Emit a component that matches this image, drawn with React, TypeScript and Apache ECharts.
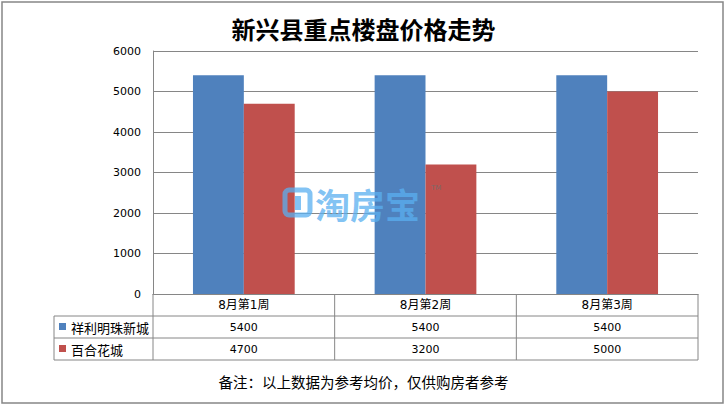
import React, { useEffect, useRef } from "react";
import * as echarts from "echarts";

const titleText = "新兴县重点楼盘价格走势";
const noteText = "备注：以上数据为参考均价，仅供购房者参考";
const categories = ["8月第1周", "8月第2周", "8月第3周"];
const seriesNames = ["祥利明珠新城", "百合花城"];
const seriesA = [5400, 5400, 5400];
const seriesB = [4700, 3200, 5000];
const colors = ["#4F81BD", "#C0504D"];

const W = 727;
const H = 407;
const gridL = 153;
const gridR = 698;
const gridT = 51;
const gridB = 294;
const rowH = 22;
const tableL = 54;
const lineColor = "#868686";

export default function App() {
  const ref = useRef<HTMLDivElement>(null);
  useEffect(() => {
    if (!ref.current) return;
    const chart = echarts.init(ref.current, undefined, { renderer: "svg" });
    const seriesData = [seriesA, seriesB];
    const colW = (gridR - gridL) / categories.length;
    const graphics: any[] = [];
    graphics.push({
      type: "rect",
      shape: { x: 2, y: 2, width: 721, height: 401 },
      style: { fill: "none", stroke: lineColor, lineWidth: 1.5 },
    });
    for (let r = 1; r <= 3; r++) {
      const y = gridB + rowH * r;
      graphics.push({
        type: "line",
        shape: { x1: tableL, y1: y, x2: gridR, y2: y },
        style: { stroke: lineColor, lineWidth: 1 },
      });
    }
    graphics.push({
      type: "line",
      shape: { x1: tableL, y1: gridB + rowH, x2: tableL, y2: gridB + rowH * 3 },
      style: { stroke: lineColor, lineWidth: 1 },
    });
    for (let c = 0; c <= categories.length; c++) {
      const x = gridL + colW * c;
      graphics.push({
        type: "line",
        shape: { x1: x, y1: gridB, x2: x, y2: gridB + rowH * 3 },
        style: { stroke: lineColor, lineWidth: 1 },
      });
    }
    seriesNames.forEach((name, i) => {
      const yc = gridB + rowH * (i + 1) + rowH / 2;
      graphics.push({
        type: "rect",
        shape: { x: 59, y: yc - 4, width: 7, height: 7 },
        style: { fill: colors[i] },
      });
      graphics.push({
        type: "text",
        x: 71,
        y: yc,
        style: {
          text: name,
          fontSize: 13,
          fontFamily: "Noto Sans CJK SC",
          fill: "#000",
          align: "left",
          verticalAlign: "middle",
        },
      });
      seriesData[i].forEach((v, c) => {
        graphics.push({
          type: "text",
          x: gridL + colW * (c + 0.5),
          y: yc,
          style: {
            text: String(v),
            fontSize: 11,
            fontFamily: "DejaVu Sans",
            fill: "#000",
            align: "center",
            verticalAlign: "middle",
          },
        });
      });
    });
    // watermark
    graphics.push({
      type: "rect",
      shape: { x: 285, y: 190, width: 25, height: 25, r: 4 },
      style: { fill: "none", stroke: "rgba(90,175,240,0.75)", lineWidth: 5 },
      z: 100,
    });
    graphics.push({
      type: "rect",
      shape: { x: 295, y: 196, width: 6, height: 14 },
      style: { fill: "rgba(90,175,240,0.75)" },
      z: 100,
    });
    graphics.push({
      type: "text",
      x: 315,
      y: 203,
      style: {
        text: "淘房宝",
        fontSize: 35,
        fontWeight: "bold",
        fontFamily: "Noto Sans CJK SC",
        fill: "rgba(90,175,240,0.75)",
        align: "left",
        verticalAlign: "middle",
      },
      z: 100,
    });
    graphics.push({
      type: "text",
      x: 431,
      y: 188,
      style: {
        text: "TM",
        fontSize: 7,
        fontFamily: "DejaVu Sans",
        fill: "rgba(110,110,110,0.8)",
        align: "left",
        verticalAlign: "middle",
      },
      z: 100,
    });
    graphics.push({
      type: "text",
      x: W / 2,
      y: 381,
      style: {
        text: noteText,
        fontSize: 14.5,
        fontFamily: "Noto Sans CJK SC",
        fill: "#000",
        align: "center",
        verticalAlign: "middle",
      },
    });

    chart.setOption({
      animation: false,
      backgroundColor: "#fff",
      title: {
        text: titleText,
        left: "center",
        top: 11,
        textStyle: {
          fontSize: 24,
          fontWeight: "bold",
          fontFamily: "Noto Sans CJK SC",
          color: "#000",
        },
      },
      grid: {
        left: gridL,
        right: W - gridR,
        top: gridT,
        bottom: H - gridB,
        containLabel: false,
      },
      xAxis: {
        type: "category",
        data: categories,
        axisLine: { show: true, lineStyle: { color: lineColor, width: 1 } },
        axisTick: { show: false },
        axisLabel: {
          margin: 5,
          fontSize: 12,
          fontFamily: "DejaVu Sans, Noto Sans CJK SC",
          color: "#000",
        },
      },
      yAxis: {
        type: "value",
        min: 0,
        max: 6000,
        interval: 1000,
        axisLine: { show: true, lineStyle: { color: lineColor, width: 1 } },
        axisTick: { show: false },
        splitLine: { show: true, lineStyle: { color: lineColor, width: 1 } },
        axisLabel: {
          margin: 12,
          fontSize: 11,
          fontFamily: "DejaVu Sans",
          color: "#000",
          formatter: (v: number) => String(v),
        },
      },
      series: [
        {
          name: seriesNames[0],
          type: "bar",
          data: seriesA,
          itemStyle: { color: colors[0] },
          barGap: "0%",
          barCategoryGap: "44%",
        },
        {
          name: seriesNames[1],
          type: "bar",
          data: seriesB,
          itemStyle: { color: colors[1] },
          barGap: "0%",
          barCategoryGap: "44%",
        },
      ],
      graphic: graphics,
    });
    return () => chart.dispose();
  }, []);
  return (
    <div
      ref={ref}
      style={{ position: "absolute", left: 0, top: 0, width: W, height: H }}
    />
  );
}
